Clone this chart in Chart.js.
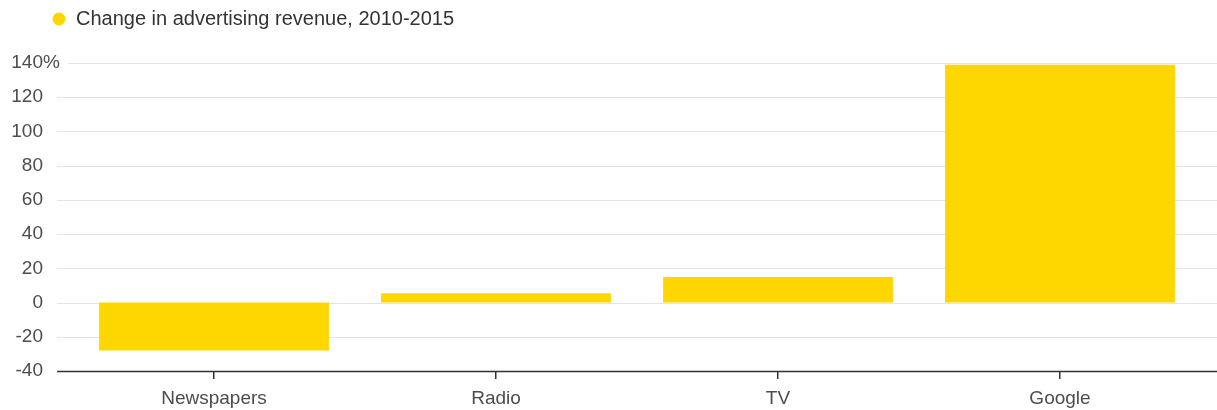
<!DOCTYPE html>
<html>
<head>
<meta charset="utf-8">
<script src="https://cdn.jsdelivr.net/npm/chart.js@4.4.1/dist/chart.umd.min.js"></script>
<style>
    html, body { margin: 0; padding: 0; background: #fff; }
    #wrap { width: 1217px; height: 410px; position: relative; }
</style>
</head>
<body>
<div id="wrap"><canvas id="adChart" width="1217" height="410"></canvas></div>
<script>
// Data
const categories = ['Newspapers', 'Radio', 'TV', 'Google'];
const changeValues = [-28, 5.5, 15, 139];
const seriesLabel = 'Change in advertising revenue, 2010-2015';
const yTicks = [-40, -20, 0, 20, 40, 60, 80, 100, 120, 140];

const FONT = "'Liberation Sans', Arial, sans-serif";
const GOLD = '#FFD700';

// grid lines drawn wider than the chart area, plus the legend and the "%" mark
const extrasPlugin = {
    id: 'extras',
    beforeDatasetsDraw(chart) {
        const ctx = chart.ctx;
        const y = chart.scales.y;
        const right = chart.width;
        ctx.save();
        ctx.font = '19px ' + FONT;
        const pctW = ctx.measureText('%').width;
        y.ticks.forEach(t => {
            if (t.value === yTicks[0]) return;
            const py = Math.round(y.getPixelForValue(t.value)) + 0.5;
            let x0 = 57;
            if (t.value === yTicks[yTicks.length - 1]) x0 = 43 + pctW + 8;
            ctx.strokeStyle = '#e4e4e8';
            ctx.lineWidth = 1;
            ctx.beginPath();
            ctx.moveTo(x0, py);
            ctx.lineTo(right, py);
            ctx.stroke();
        });
        ctx.restore();
    },
    afterDraw(chart) {
        const ctx = chart.ctx;
        const y = chart.scales.y;
        ctx.save();
        // x axis line
        const by = Math.round(y.getPixelForValue(yTicks[0])) + 0.5;
        ctx.strokeStyle = '#333';
        ctx.lineWidth = 1.5;
        ctx.beginPath();
        ctx.moveTo(57, by);
        ctx.lineTo(chart.width, by);
        ctx.stroke();

        // percent sign on the top tick
        ctx.font = '19px ' + FONT;
        ctx.fillStyle = '#4d4d4d';
        ctx.textAlign = 'left';
        ctx.textBaseline = 'middle';
        ctx.fillText('%', 43, y.getPixelForValue(yTicks[yTicks.length - 1]));

        // legend
        const ds = chart.data.datasets[0];
        ctx.fillStyle = ds.backgroundColor;
        ctx.beginPath();
        ctx.arc(59, 19, 6.5, 0, Math.PI * 2);
        ctx.fill();
        ctx.font = '20px ' + FONT;
        ctx.fillStyle = '#333';
        ctx.fillText(ds.label, 76, 19);
        ctx.restore();
    }
};

const ctx = document.getElementById('adChart');
new Chart(ctx, {
    type: 'bar',
    data: {
        labels: categories,
        datasets: [{
            label: seriesLabel,
            data: changeValues,
            backgroundColor: GOLD,
            borderWidth: 0,
            categoryPercentage: 1,
            barPercentage: 0.815
        }]
    },
    options: {
        responsive: false,
        animation: false,
        devicePixelRatio: 1,
        layout: { padding: { top: 63, right: 16, bottom: 0, left: 0 } },
        plugins: {
            legend: { display: false },
            tooltip: { enabled: false }
        },
        scales: {
            x: {
                offset: true,
                border: { display: false },
                grid: {
                    offset: false,
                    drawOnChartArea: false,
                    drawTicks: true,
                    tickLength: 8,
                    color: '#333',
                    lineWidth: 1.5
                },
                ticks: {
                    padding: 8,
                    color: '#4d4d4d',
                    font: { family: FONT, size: 19 }
                },
                afterFit(scale) { scale.height = 39; }
            },
            y: {
                min: yTicks[0],
                max: yTicks[yTicks.length - 1],
                border: { display: false },
                grid: { display: false, drawTicks: false },
                ticks: {
                    stepSize: yTicks[1] - yTicks[0],
                    padding: 30,
                    color: '#4d4d4d',
                    font: { family: FONT, size: 19 },
                    callback: v => String(v)
                },
                afterFit(scale) {
                    scale.width = 73;
                    // tick padding would otherwise push the plot area in
                    scale.paddingTop = 0;
                    scale.paddingBottom = 0;
                }
            }
        }
    },
    plugins: [extrasPlugin]
});
</script>
</body>
</html>
